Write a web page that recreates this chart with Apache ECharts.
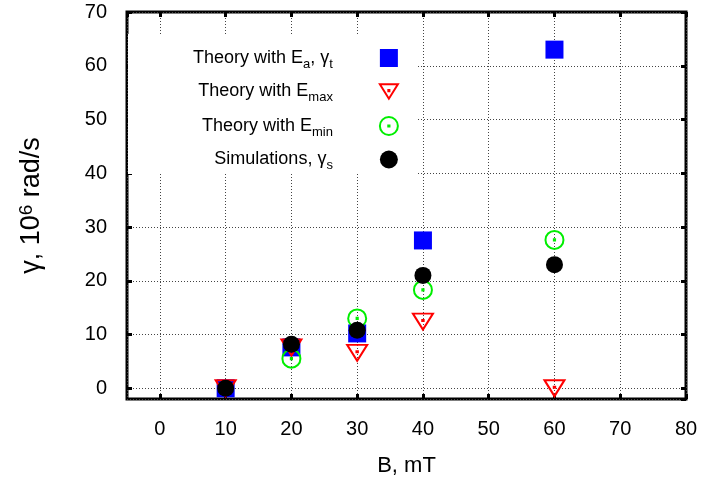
<!DOCTYPE html>
<html>
<head>
<meta charset="utf-8">
<script src="https://cdn.jsdelivr.net/npm/echarts@6/dist/echarts.min.js"></script>
<style>html,body{margin:0;padding:0;background:#fff;}#c{width:707px;height:493px;}</style>
</head>
<body>
<div id="c"></div>
<script>
// ---- data ----
const bField     = [10, 20, 30, 40, 60];            // B, mT
const gammaEa    = [0, 7.6, 10.2, 27.5, 63.0];      // Theory with Ea, gamma_t
const gammaEmax  = [0, 7.6, 6.6, 12.4, 0.0];        // Theory with Emax
const gammaEmin  = [null, 5.5, 13.0, 18.3, 27.6];   // Theory with Emin
const gammaSim   = [0, 8.2, 10.8, 21.0, 23.0];      // Simulations, gamma_s
const seriesNames = ['Theory with Ea, γt', 'Theory with Emax', 'Theory with Emin', 'Simulations, γs'];
const xTickLabels = ['0','10','20','30','40','50','60','70','80'];
const yTickLabels = ['0','10','20','30','40','50','60','70'];

const FONT = 'Liberation Sans, Arial, Helvetica, sans-serif';
function pairs(ys){ const out=[]; ys.forEach((v,i)=>{ if(v!==null) out.push([bField[i], v]); }); return out; }

const legendRich = {
  t:   {fontFamily: FONT, fontSize: 18, color: '#000', lineHeight: 20, verticalAlign: 'middle'},
  sub: {fontFamily: FONT, fontSize: 13, color: '#000', verticalAlign: 'bottom', padding: [12,0,0,0]}
};
const legendFmt = {
  'Theory with Ea, γt': '{t|Theory with E}{sub|a}{t|, γ}{sub|t}',
  'Theory with Emax':   '{t|Theory with E}{sub|max}',
  'Theory with Emin':   '{t|Theory with E}{sub|min}',
  'Simulations, γs':    '{t|Simulations, γ}{sub|s}'
};

const triPath = 'path://M0,0L20,0L10,16Z M9.4,6.4L10.6,6.4L10.6,7.6L9.4,7.6Z';
const circPath = 'path://M1,10A9,9 0 1 1 19,10A9,9 0 1 1 1,10Z M9.4,9.4L10.6,9.4L10.6,10.6L9.4,10.6Z';

const tickStyle = {show: true, inside: true, length: 5, lineStyle: {color: '#000', width: 3}};
const gridLine = {show: true, lineStyle: {color: '#444', width: 1, type: [1, 2]}};
const noLine = {show: false, onZero: false};

const chart = echarts.init(document.getElementById('c'), null, {renderer: 'canvas'});
chart.setOption({
  animation: false,
  backgroundColor: '#fff',
  grid: {left: 127, right: 21, top: 12, bottom: 94, show: true, borderColor: '#000', borderWidth: 3, backgroundColor: 'transparent'},
  xAxis: [
    {type: 'value', min: -5, max: 80, splitNumber: 8, position: 'bottom',
     axisLine: noLine, axisTick: tickStyle, splitLine: gridLine,
     axisLabel: {show: true, showMinLabel: false, margin: 20, fontFamily: FONT, fontSize: 20, color: '#000',
       formatter: v => (xTickLabels.indexOf(String(v)) >= 0 ? String(v) : '')},
     name: 'B, mT', nameLocation: 'middle', nameGap: 56,
     nameTextStyle: {fontFamily: FONT, fontSize: 22, color: '#000'}},
    {type: 'value', min: -5, max: 80, splitNumber: 8, position: 'top',
     axisLine: noLine, axisTick: tickStyle, splitLine: {show: false}, axisLabel: {show: false}}
  ],
  yAxis: [
    {type: 'value', min: -2, max: 70, splitNumber: 7, position: 'left',
     axisLine: noLine, axisTick: tickStyle, splitLine: gridLine,
     axisLabel: {show: true, showMinLabel: false, margin: 20, padding: [4,0,0,0], fontFamily: FONT, fontSize: 20, color: '#000',
       formatter: v => (yTickLabels.indexOf(String(v)) >= 0 ? String(v) : '')},
     name: '{t|γ, 10}{sup|6}{t| rad/s}', nameLocation: 'middle', nameGap: 80,
     nameTextStyle: {fontFamily: FONT, fontSize: 27, color: '#000',
       rich: {t: {fontFamily: FONT, fontSize: 27, color: '#000', lineHeight: 30, verticalAlign: 'middle'},
              sup: {fontFamily: FONT, fontSize: 19, color: '#000', verticalAlign: 'top'}}}},
    {type: 'value', min: -2, max: 70, splitNumber: 7, position: 'right',
     axisLine: noLine, axisTick: tickStyle, splitLine: {show: false}, axisLabel: {show: false}}
  ],
  legend: {
    orient: 'vertical', align: 'right', left: 128, top: 34,
    backgroundColor: '#fff', padding: [15, 18, 2, 65],
    itemWidth: 18, itemHeight: 18, itemGap: 12,
    textStyle: {fontFamily: FONT, fontSize: 18, color: '#000', padding: [0, 42, 0, 0], rich: legendRich},
    formatter: name => legendFmt[name],
    data: seriesNames
  },
  series: [
    {name: seriesNames[0], type: 'scatter', data: pairs(gammaEa), symbol: 'rect', symbolSize: 18,
     itemStyle: {color: '#0000ff', opacity: 1}},
    {name: seriesNames[1], type: 'scatter', data: pairs(gammaEmax), symbol: triPath, symbolSize: [20, 16],
     itemStyle: {color: 'rgba(0,0,0,0)', borderColor: '#ff0000', borderWidth: 2, opacity: 1}},
    {name: seriesNames[2], type: 'scatter', data: pairs(gammaEmin), symbol: circPath, symbolSize: 18,
     itemStyle: {color: 'rgba(0,0,0,0)', borderColor: '#00ee00', borderWidth: 2, opacity: 1}},
    {name: seriesNames[3], type: 'scatter', data: pairs(gammaSim), symbol: 'circle', symbolSize: 17,
     itemStyle: {color: '#000000', opacity: 1}}
  ]
});
</script>
</body>
</html>
